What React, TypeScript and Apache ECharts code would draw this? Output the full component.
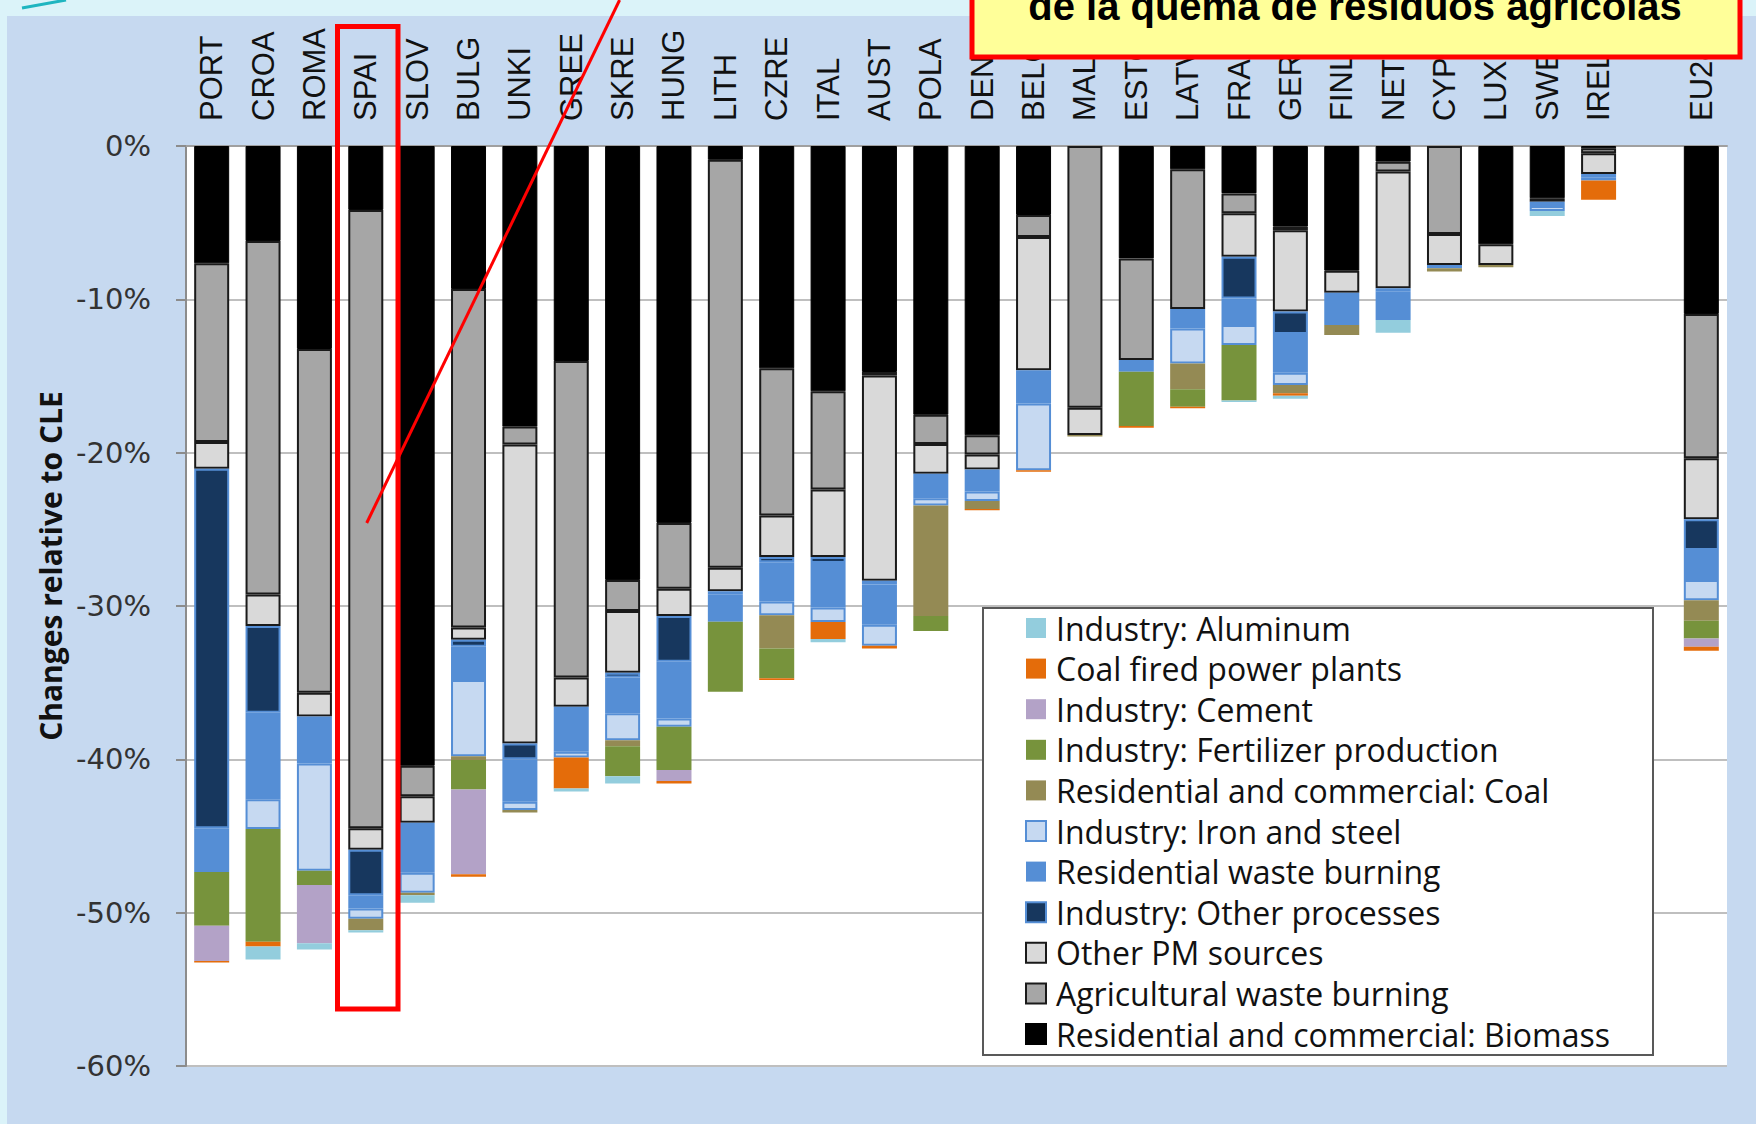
import React, { useEffect, useRef } from "react";
import * as echarts from "echarts";

const categories = ["PORT","CROA","ROMA","SPAI","SLOV","BULG","UNKI","GREE","SKRE","HUNG","LITH","CZRE","ITAL","AUST","POLA","DENM","BELG","MALT","ESTO","LATV","FRAN","GERM","FINL","NETH","CYPR","LUXE","SWED","IREL","","EU28"];
const yTicks = { min: -60, max: 0, step: 10 };

// values in % change relative to CLE (stack order from 0 downward)
const biomass   = [-7.65,-6.2,-13.24,-4.17,-40.42,-9.33,-18.3,-14.02,-28.3,-24.58,-0.9,-14.5,-16.0,-14.74,-17.53,-18.87,-4.5,0,-7.33,-1.52,-3.09,-5.26,-8.13,-1.02,0,-6.41,-3.41,-0.15,null,-10.96];
const agri      = [-11.65,-23.05,-22.42,-40.33,-1.98,-22.07,-1.16,-20.64,-2.03,-4.3,-26.6,-9.6,-6.4,-0.22,-1.9,-1.25,-1.44,-17.07,-6.63,-9.11,-1.3,-0.24,0,-0.65,-5.74,0,0,-0.33,null,-9.41];
const otherPM   = [-1.75,-2.05,-1.54,-1.4,-1.74,-0.8,-19.5,-1.91,-4.03,-1.78,-1.54,-2.7,-4.4,-13.4,-1.95,-0.98,-8.69,-1.78,0,0,-2.83,-5.3,-1.44,-7.61,-2.02,-1.35,-0.22,-1.35,null,-3.98];
const otherProc = [-23.45,-5.67,0,-2.96,0,-0.46,-1.04,-0.22,-0.3,-2.98,-0.2,-0.35,-0.4,-0.24,0,0,0,0,0,0,-2.72,-1.46,0,-0.22,0,0,0,-0.2,null,-2.0];
const resWaste  = [-2.85,-5.63,-3.07,-0.87,-3.26,-2.17,-2.77,-2.71,-2.34,-3.69,-1.79,-2.55,-2.9,-2.62,-1.6,-1.43,-2.17,0,-0.76,-1.27,-1.74,-2.53,-2.11,-1.85,-0.22,0,-0.28,-0.22,null,-1.96];
const ironSteel = [0,-1.95,-7.0,-0.67,-1.3,-4.97,-0.53,-0.38,-1.75,-0.55,0,-0.9,-0.95,-1.38,-0.46,-0.63,-4.35,0,0,-2.28,-1.3,-0.8,0,0,0,0,-0.33,0,null,-1.31];
const resCoal   = [0,0,0,-0.74,-0.16,-0.25,-0.16,0,-0.39,0,0,-2.17,0,0,-7.21,-0.51,0,-0.1,0,-1.69,0,-0.54,-0.65,0,-0.2,-0.15,0,0,null,-1.35];
const fertilizer= [-3.5,-7.35,-0.93,0,0,-1.91,0,0,-1.96,-2.82,-4.57,-1.95,0,0,-0.98,0,0,0,-3.54,-1.13,-3.62,0,0,0,0,0,0,0,null,-1.15];
const cement    = [-2.3,0,-3.8,0,0,-5.53,0,0,0,-0.72,0,0,0,0,0,0,0,0,0,0,0,0,0,0,0,0,0,0,null,-0.54];
const coalPower = [-0.1,-0.3,0,0,0,-0.17,0,-2.02,0,-0.15,0,-0.1,-1.1,-0.17,0,-0.08,-0.1,0,-0.12,-0.1,0,-0.15,0,0,0,0,0,-1.26,null,-0.26];
const aluminum  = [0,-0.85,-0.4,-0.16,-0.5,0,0,-0.2,-0.47,0,0,0,-0.22,0,0,0,0,0,0,0,-0.1,-0.2,0,-0.83,0,0,-0.33,0,null,0];

const seriesDefs = [
  { name: "Residential and commercial: Biomass", data: biomass, color: "#000000", border: "#000000", bw: 1 },
  { name: "Agricultural waste burning", data: agri, color: "#a6a6a6", border: "#1a1a1a", bw: 2 },
  { name: "Other PM sources", data: otherPM, color: "#d9d9d9", border: "#1a1a1a", bw: 2 },
  { name: "Industry: Other processes", data: otherProc, color: "#17375e", border: "#558ed5", bw: 2 },
  { name: "Residential waste burning", data: resWaste, color: "#558ed5", border: "#558ed5", bw: 0 },
  { name: "Industry: Iron and steel", data: ironSteel, color: "#c6d9f1", border: "#558ed5", bw: 2 },
  { name: "Residential and commercial: Coal", data: resCoal, color: "#948a54", border: "#948a54", bw: 0 },
  { name: "Industry: Fertilizer production", data: fertilizer, color: "#77933c", border: "#77933c", bw: 0 },
  { name: "Industry: Cement", data: cement, color: "#b3a2c7", border: "#b3a2c7", bw: 0 },
  { name: "Coal fired power plants", data: coalPower, color: "#e46c0a", border: "#e46c0a", bw: 0 },
  { name: "Industry: Aluminum", data: aluminum, color: "#93cddd", border: "#93cddd", bw: 0 },
];

export default function App() {
  const ref = useRef<HTMLDivElement>(null);
  useEffect(() => {
    document.body.style.margin = "0";
    const chart = echarts.init(ref.current!, null, { renderer: "svg" });
    const option: any = {
      animation: false,
      backgroundColor: "#c6d9f0",
      grid: { left: 186, right: 29, top: 146, bottom: 58, show: true, backgroundColor: "#ffffff", borderWidth: 0, containLabel: false },
      legend: {
        orient: "vertical",
        left: 983,
        top: 608,
        padding: [3, 37, 4, 42],
        itemWidth: 20,
        itemHeight: 20,
        itemGap: 6.6,
        icon: "rect",
        z: 6,
        data: seriesDefs.map((s) => s.name).reverse(),
        textStyle: { fontFamily: "Open Sans", fontSize: 32, color: "#111", lineHeight: 34, padding: [0, 0, 0, 5] },
      },
      xAxis: {
        type: "category",
        position: "top",
        data: categories,
        axisLine: { show: true, lineStyle: { color: "#a0a0a0", width: 2 } },
        axisTick: { show: false },
        axisLabel: { rotate: 90, margin: 25, interval: 0, fontFamily: "Liberation Sans", fontSize: 31, color: "#111" },
        splitLine: { show: false },
      },
      yAxis: {
        type: "value",
        min: yTicks.min,
        max: yTicks.max,
        interval: yTicks.step,
        name: "Changes relative to CLE",
        nameLocation: "middle",
        nameGap: 121,
        nameTextStyle: { fontFamily: "Open Sans", fontWeight: "bold", fontSize: 30, color: "#111", padding: [0, 0, 0, 80] },
        axisLine: { show: true, lineStyle: { color: "#8c8c8c", width: 2 } },
        axisTick: { show: true, length: 10, lineStyle: { color: "#8c8c8c", width: 2 } },
        axisLabel: { formatter: "{value}%", margin: 35, fontFamily: "DejaVu Sans", fontSize: 29, color: "#333" },
        splitLine: { show: true, lineStyle: { color: "#bfbfbf", width: 2 } },
      },
      series: seriesDefs.map((s) => ({
        name: s.name,
        type: "bar",
        stack: "total",
        barWidth: 35,
        data: s.data.map((v) => (v === 0 || v === null ? null : v)),
        itemStyle: { color: s.color, borderColor: s.border, borderWidth: s.bw },
        emphasis: { disabled: true },
      })),
      graphic: [
        { type: "rect", z: 1, shape: { x: 0, y: 0, width: 1756, height: 16 }, style: { fill: "#dbf3f9" } },
        { type: "rect", z: 1, shape: { x: 0, y: 0, width: 7, height: 1124 }, style: { fill: "#dbf3f9" } },
        { type: "line", z: 1, shape: { x1: 22, y1: 8, x2: 66, y2: 0 }, style: { stroke: "#1fb5c0", lineWidth: 3 } },
        { type: "rect", z: 5, shape: { x: 983, y: 608, width: 670, height: 447 }, style: { fill: "#ffffff", stroke: "#595959", lineWidth: 2 } },
        { type: "rect", z: 100, shape: { x: 337.5, y: 26.5, width: 60.5, height: 982.5 }, style: { fill: "none", stroke: "#ff0000", lineWidth: 5 } },
        { type: "line", z: 100, shape: { x1: 366.7, y1: 523, x2: 619.6, y2: 0 }, style: { stroke: "#ff0000", lineWidth: 3 } },
        { type: "rect", z: 101, shape: { x: 972, y: -10, width: 768, height: 67 }, style: { fill: "#ffff99", stroke: "#ff0000", lineWidth: 5 } },
        { type: "text", z: 102, x: 1355, y: 6, style: { text: "de la quema de residuos agrícolas", fontFamily: "Liberation Sans", fontWeight: "bold", fontSize: 40, fill: "#000", align: "center", verticalAlign: "middle" } },
      ],
    };
    chart.setOption(option);
    return () => chart.dispose();
  }, []);
  return <div ref={ref} style={{ width: 1756, height: 1124, position: "absolute", left: 0, top: 0 }} />;
}
